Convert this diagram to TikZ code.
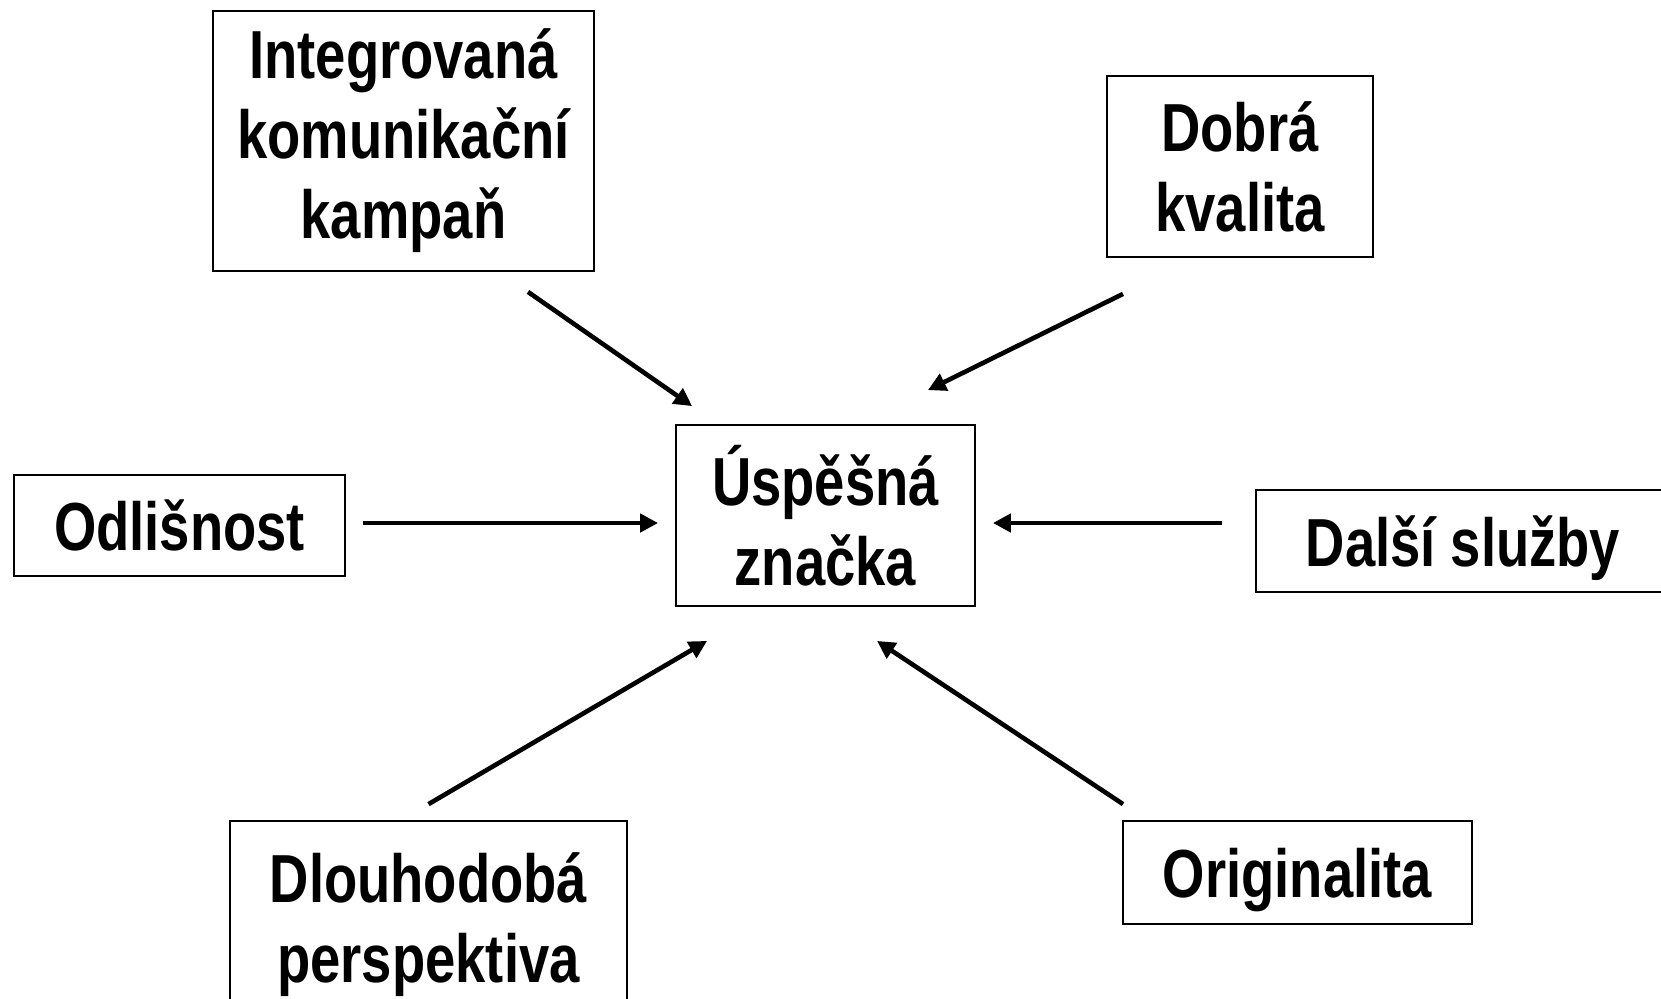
\documentclass[tikz,border=0pt]{standalone}
\usepackage{fontspec}
\setmainfont[FakeStretch=0.8]{Liberation Sans}
\usepackage{xcolor}
\usepackage{tikz}
\usetikzlibrary{arrows.meta, positioning}
\tikzstyle{factorbox} = [rectangle, draw=black, fill=white, line width=0.9pt, inner sep=0pt,
  text centered, align=center, font=\fontsize{34}{40}\selectfont\bfseries]
\tikzstyle{arrow} = [line width=2.3pt, -{Triangle[length=9pt, width=9pt]}]

\begin{document}
\begin{tikzpicture}[x=0.5pt, y=-0.5pt]
  \useasboundingbox (0,0) rectangle (1661,998);

  % === CENTRE ===
  \node (usp) [factorbox, minimum width=149.5pt, minimum height=90.5pt] at (825.5,515.5)
    {Úspěšná\\značka};

  % === FACTORS ===
  \node (int) [factorbox, minimum width=190.5pt, minimum height=130pt] at (403.5,141)
    {Integrovaná\\komunikační\\kampaň};
  \node (dobra) [factorbox, minimum width=133pt, minimum height=90.5pt] at (1240,166.5)
    {Dobrá\\kvalita};
  \node (odl) [factorbox, text depth=0pt, minimum width=165.5pt, minimum height=50.5pt] at (179.5,525.5)
    {Odlišnost};
  \node (dalsi) [factorbox, text depth=0pt, minimum width=207pt, minimum height=51pt] at (1463,541)
    {Další služby};
  \node (dlouh) [factorbox, minimum width=198.5pt, minimum height=104pt] at (428.5,925)
    {Dlouhodobá\\perspektiva};
  \node (orig) [factorbox, text depth=0pt, minimum width=174.5pt, minimum height=51.5pt] at (1297.5,872.5)
    {Originalita};

  % === ARROWS ===
  \draw[arrow] ([shift={(124.5,20)}]int.south)   -- ([shift={(17,-18)}]usp.north west);
  \draw[arrow] ([shift={(-117,36)}]dobra.south)  -- ([shift={(-48,-34)}]usp.north east);
  \draw[arrow] ([shift={(17,-2.5)}]odl.east)     -- ([shift={(-17,7.5)}]usp.west);
  \draw[arrow] ([shift={(-33,-18)}]dalsi.west)   -- ([shift={(17,7.5)}]usp.east);
  \draw[arrow] ([shift={(0,-16)}]dlouh.north)    -- ([shift={(32,34)}]usp.south west);
  \draw[arrow] ([shift={(-174.5,-16)}]orig.north) -- ([shift={(51.5,34)}]usp.south);

\end{tikzpicture}
\end{document}
